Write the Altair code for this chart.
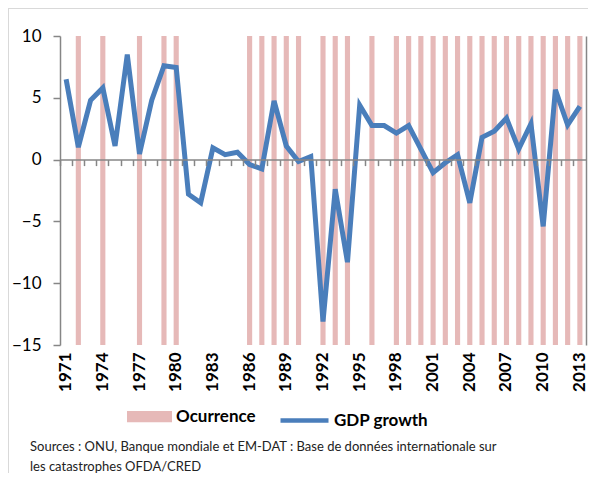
import altair as alt
import pandas as pd

years = list(range(1971, 2014))
gdp_growth = [6.5, 1.0, 4.8, 5.8, 1.1, 8.5, 0.45, 4.8, 7.6, 7.45,
              -2.8, -3.5, 0.95, 0.4, 0.6, -0.4, -0.75, 4.75, 1.1, -0.15,
              0.25, -13.1, -2.4, -8.3, 4.4, 2.75, 2.75, 2.15, 2.75, 0.85,
              -1.05, -0.25, 0.4, -3.5, 1.8, 2.3, 3.35, 0.85, 2.9, -5.4,
              5.65, 2.8, 4.3]
occurrence_years = [1972, 1974, 1977, 1979, 1980, 1986, 1987, 1988, 1989, 1990,
                    1992, 1993, 1994, 1996] + list(range(1998, 2014))
label_years = list(range(1971, 2014, 3))
y_ticks = [-15, -10, -5, 0, 5, 10]
source_text = ("Sources : ONU, Banque mondiale et EM-DAT : Base de données internationale sur\n"
               "les catastrophes OFDA/CRED")

df = pd.DataFrame({
    "year": years,
    "gdp": gdp_growth,
    "occ": [1 if y in occurrence_years else 0 for y in years],
})

PINK = "#E6B9B8"
BLUE = "#4A7EBB"
GRAY = "#868686"
FONT = "Lato"
W, H = 526, 309
Y_MIN, Y_MAX = -15, 10
ZERO_OFFSET = -(H * (0 - Y_MIN) / (Y_MAX - Y_MIN))

xscale = alt.Scale(type="band", paddingInner=0, paddingOuter=0)
yscale = alt.Scale(domain=[Y_MIN, Y_MAX], nice=False, zero=False)

bars = alt.Chart(df).transform_filter("datum.occ == 1").transform_calculate(
    olab="'Ocurrence'"
).mark_bar(width=alt.RelativeBandSize(0.42)).encode(
    x=alt.X("year:O", scale=xscale, axis=alt.Axis(
        values=label_years, labelAngle=-90, labelFont=FONT, labelFontSize=17,
        labelFontWeight="bold", labelColor="black", labelPadding=7,
        domain=False, ticks=False, title=None, grid=False)),
    y=alt.Y("occ:Q", scale=alt.Scale(domain=[0, 1], nice=False), axis=alt.Axis(
        orient="right", labels=False, ticks=False, domain=True, domainColor=GRAY,
        domainWidth=1.5, title=None, grid=False)),
    fill=alt.Fill("olab:N", scale=alt.Scale(domain=["Ocurrence"], range=[PINK]),
                  legend=alt.Legend(orient="none", legendX=67, legendY=358, title=None,
                                    symbolType="M-1,-0.25H1V0.25H-1Z", symbolSize=2025,
                                    symbolStrokeWidth=0, labelFont=FONT, labelFontSize=17,
                                    labelFontWeight="bold", labelColor="black",
                                    labelOffset=4, padding=0)),
)

line = alt.Chart(df).transform_calculate(glab="'GDP growth'").mark_line(
    strokeWidth=5, strokeJoin="miter").encode(
    x=alt.X("year:O", scale=xscale, bandPosition=0.5, axis=alt.Axis(
        orient="bottom", offset=ZERO_OFFSET, labels=False, domain=True, domainColor=GRAY,
        domainWidth=1.5, ticks=True, tickColor=GRAY, tickWidth=1.5, tickSize=6,
        bandPosition=0, values=years, title=None, grid=False, zindex=1)),
    y=alt.Y("gdp:Q", scale=yscale, axis=alt.Axis(
        values=y_ticks, tickSize=7, tickColor=GRAY, tickWidth=1.5,
        domainColor=GRAY, domainWidth=1.5, labelFont=FONT, labelFontSize=17,
        labelColor="black", labelPadding=12, grid=False, title=None)),
    stroke=alt.Stroke("glab:N", scale=alt.Scale(domain=["GDP growth"], range=[BLUE]),
                      legend=alt.Legend(orient="none", legendX=218, legendY=358, title=None,
                                        symbolType="M-1,0H1", symbolSize=2304,
                                        symbolStrokeWidth=4.5, labelFont=FONT, labelFontSize=17,
                                        labelFontWeight="bold", labelColor="black",
                                        labelOffset=3, padding=0)),
)

src = alt.Chart(pd.DataFrame({"t": [source_text]})).mark_text(
    align="left", baseline="top", font=FONT, fontSize=13, color="#222",
    lineBreak="\n", lineHeight=20).encode(
    text="t:N", x=alt.value(-30), y=alt.value(405))

frame_left = alt.Chart(pd.DataFrame({"a": [0]})).mark_rule(color="#D9D9D9", strokeWidth=1).encode(
    x=alt.value(-51.5), y=alt.value(-28), y2=alt.value(440))
frame_top = alt.Chart(pd.DataFrame({"a": [0]})).mark_rule(color="#D9D9D9", strokeWidth=1).encode(
    x=alt.value(-52), x2=alt.value(W + 2), y=alt.value(-27.5))

chart = alt.layer(bars, line, src, frame_left, frame_top).resolve_scale(
    y="independent", fill="independent", stroke="independent"
).resolve_axis(x="independent", y="independent").properties(
    width=W, height=H,
    padding={"left": 52, "top": 28, "right": 2, "bottom": 128},
    autosize=alt.AutoSizeParams(type="none"),
).configure_view(stroke=None)

chart.save("out.html", embed_options={"renderer": "svg", "actions": False})
